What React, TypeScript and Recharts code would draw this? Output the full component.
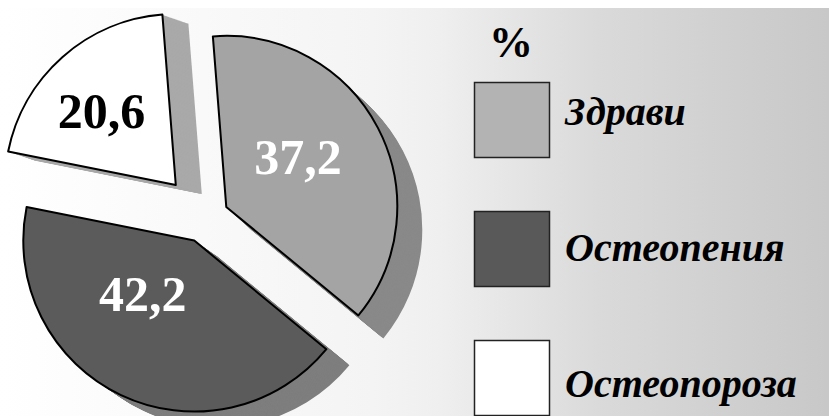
import React from "react";
import { PieChart, Pie, Sector, Legend } from "recharts";

const categories = ["Здрави", "Остеопения", "Остеопороза"];
const shares = [37.2, 42.2, 20.6];
const shareLabels = ["37,2", "42,2", "20,6"];
const legendTitle = "%";

type SliceStyle = {
  fill: string;
  side: string;
  swatch: string;
  text: string;
  explode: number;
  depth: [number, number];
  labelR: number;
  labelShift: number;
};

const sliceStyles: Record<string, SliceStyle> = {
  "Здрави": { fill: "#a4a4a4", side: "#898989", swatch: "#b3b3b3", text: "#ffffff", explode: 24, depth: [25, 23], labelR: 87, labelShift: 7 },
  "Остеопения": { fill: "#5b5b5b", side: "#7e7e7e", swatch: "#595959", text: "#ffffff", explode: 25, depth: [23, 16], labelR: 75, labelShift: -18 },
  "Остеопороза": { fill: "#ffffff", side: "#a9a9a9", swatch: "#ffffff", text: "#000000", explode: 44, depth: [26, 9], labelR: 104, labelShift: 4 }
};

const data = categories.map((name, i) => ({ name, value: shares[i], label: shareLabels[i] }));

const RAD = Math.PI / 180;
const PIE_CX = 205;
const PIE_CY = 210;
const PIE_R = 171;

function explodedCenter(props: any) {
  const st = sliceStyles[props.payload.name ?? props.name];
  return {
    st,
    x: props.cx + st.explode * Math.cos(-props.midAngle * RAD),
    y: props.cy + st.explode * Math.sin(-props.midAngle * RAD)
  };
}

function SideShape(props: any) {
  const { x, y, st } = explodedCenter(props);
  const steps = 26;
  const layers = [];
  for (let k = steps; k >= 1; k--) {
    layers.push(
      <Sector
        key={k}
        cx={x + (st.depth[0] * k) / steps}
        cy={y + (st.depth[1] * k) / steps}
        innerRadius={0}
        outerRadius={props.outerRadius}
        startAngle={props.startAngle}
        endAngle={props.endAngle}
        fill={st.side}
        stroke="none"
      />
    );
  }
  return <g>{layers}</g>;
}

function TopShape(props: any) {
  const { x, y, st } = explodedCenter(props);
  return (
    <Sector
      cx={x}
      cy={y}
      innerRadius={0}
      outerRadius={props.outerRadius}
      startAngle={props.startAngle}
      endAngle={props.endAngle}
      fill={st.fill}
      stroke="#000000"
      strokeWidth={2}
      strokeLinejoin="round"
    />
  );
}

function SliceLabel(props: any) {
  const { x, y, st } = explodedCenter(props);
  const a = (props.midAngle + st.labelShift) * RAD;
  const lx = x + st.labelR * Math.cos(-a);
  const ly = y + st.labelR * Math.sin(-a);
  return (
    <text
      x={lx}
      y={ly + 16}
      textAnchor="middle"
      fill={st.text}
      fontFamily="'Liberation Serif', serif"
      fontWeight="bold"
      fontSize={50}
    >
      {props.payload.label}
    </text>
  );
}

function LegendBox(props: any) {
  const seen = new Set<string>();
  const items = (props.payload || []).filter((p: any) => {
    if (seen.has(p.value)) return false;
    seen.add(p.value);
    return true;
  });
  return (
    <svg width={366} height={408} style={{ display: "block" }}>
      <text x={34} y={49} fontFamily="'Liberation Serif', serif" fontWeight="bold" fontSize={44} fill="#000">
        {legendTitle}
      </text>
      {items.map((p: any, i: number) => {
        const st = sliceStyles[p.value];
        return (
          <g key={p.value}>
            <rect x={19.5} y={74.5 + i * 129} width={75} height={75} fill={st.swatch} stroke="#222" strokeWidth={1.5} />
            <text
              x={110}
              y={117 + i * 136}
              fontFamily="'Liberation Serif', serif"
              fontWeight="bold"
              fontStyle="italic"
              fontSize={40}
              fill="#000"
            >
              {p.value}
            </text>
          </g>
        );
      })}
    </svg>
  );
}

export default function App() {
  return (
    <div style={{ position: "absolute", left: 0, top: 0, width: 829, height: 416, background: "#ffffff" }}>
      <div
        style={{
          position: "absolute",
          left: 0,
          top: 8,
          width: 829,
          height: 408,
          background:
            "linear-gradient(to right, #ffffff 0%, #f4f4f4 45%, #efefef 53%, #dadada 72%, #cdcdcd 92%, #c8c8c8 100%)"
        }}
      >
        <PieChart width={829} height={408} margin={{ top: 0, right: 0, bottom: 0, left: 0 }}>
          <Pie
            data={data}
            dataKey="value"
            nameKey="name"
            cx={PIE_CX}
            cy={PIE_CY}
            outerRadius={PIE_R}
            startAngle={94.5}
            endAngle={-265.5}
            shape={SideShape}
            legendType="none"
            isAnimationActive={false}
          />
          <Pie
            data={data}
            dataKey="value"
            nameKey="name"
            cx={PIE_CX}
            cy={PIE_CY}
            outerRadius={PIE_R}
            startAngle={94.5}
            endAngle={-265.5}
            shape={TopShape}
            label={SliceLabel}
            labelLine={false}
            isAnimationActive={false}
          />
          <Legend
            content={LegendBox}
            layout="vertical"
            align="right"
            verticalAlign="top"
            wrapperStyle={{ position: "absolute", left: 455, top: 0, width: 366, height: 408 }}
          />
        </PieChart>
      </div>
    </div>
  );
}
